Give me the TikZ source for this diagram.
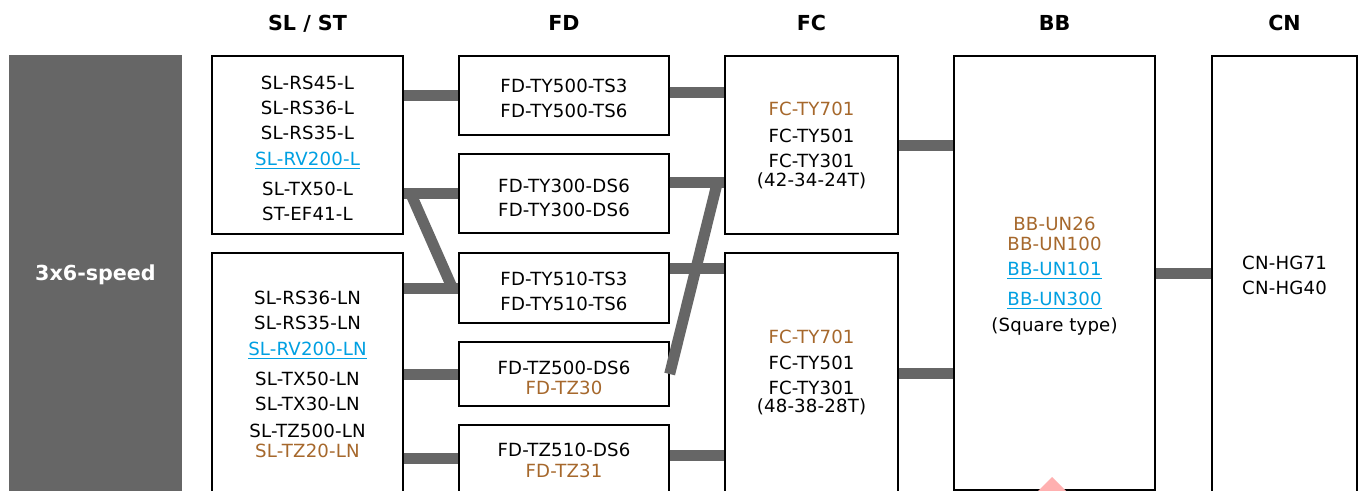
\documentclass[tikz,border=0pt]{standalone}
\usepackage{fontspec}
\setmainfont{DejaVu Sans}
\newfontfamily\partfont[LetterSpace=1]{DejaVu Sans}
\usetikzlibrary{fit,calc}
\definecolor{chartGray}{RGB}{102,102,102}
\definecolor{partBrown}{RGB}{166,104,44}
\definecolor{partBlue}{RGB}{0,160,226}
\definecolor{markPink}{RGB}{255,176,176}
\newcommand{\brn}[1]{\textcolor{partBrown}{#1}}
\newcommand{\ulnk}[1]{\textcolor{partBlue}{\setbox0\hbox{#1}\rlap{\rule[-3.3pt]{\wd0}{1.1pt}}\box0}}

\begin{document}
\begin{tikzpicture}[x=0.75pt, y=-0.75pt,
  % ── part boxes ──
  partbox/.style={draw=black, line width=1pt, inner sep=0pt, fill=white},
  % ── texts ──
  txt/.style={anchor=base, inner sep=0pt, font=\partfont\fontsize{13.6}{16}\selectfont},
  head/.style={anchor=base, inner sep=0pt, font=\fontsize{15.5}{19}\selectfont\bfseries},
  % ── connectors ──
  link/.style={line width=8.25pt, chartGray},
]
\useasboundingbox (0,0) rectangle (1359,490);
\clip (0,0) rectangle (1359,490);

%% ─── 1. speed bar on the left ─────────────────────────────────
\node[fill=chartGray, inner sep=0pt, fit={(9,55) (182,500)}] (speed) {};
\node[head, white] (speedt) at (speed.center |- 0,280) {3x6-speed};

%% ─── 2. part boxes ─────────────────────────────────────────────
% x: SL 212-403 | FD 459-669 | FC 725-898 | BB 954-1155 | CN 1212-1357
\node[partbox, fit={(212,56) (403,234)}]  (sl1) {};
\node[partbox, fit={(212,253) (403,493)}] (sl2) {};
\node[partbox, fit={(459,56) (669,135)}]  (fd1) {};
\node[partbox, fit={(459,154) (669,233)}] (fd2) {};
\node[partbox, fit={(459,253) (669,323)}] (fd3) {};
\node[partbox, fit={(459,342) (669,406)}] (fd4) {};
\node[partbox, fit={(459,425) (669,492)}] (fd5) {};
\node[partbox, fit={(725,56) (898,234)}]  (fc1) {};
\node[partbox, fit={(725,253) (898,493)}] (fc2) {};
\node[partbox, fit={(954,56) (1155,490)}] (bb) {};
\node[partbox, fit={(1212,56) (1357,494)}] (cn) {};

%% ─── 3. column titles ──────────────────────────────────────────
\node[head] (hsl) at (sl1.north |- 0,30) {SL / ST};
\node[head] (hfd) at (fd1.north |- 0,30) {FD};
\node[head] (hfc) at (fc1.north |- 0,30) {FC};
\node[head] (hbb) at (bb.north |- 0,30)  {BB};
\node[head] (hcn) at (cn.north |- 0,30)  {CN};

%% ─── 4. connectors ─────────────────────────────────────────────
% SL -> FD
\draw[link] (fd1.west -| sl1.east) -- (fd1.west);
\draw[link] (fd2.west -| sl1.east) -- (fd2.west);
\draw[link] (fd3.west -| sl2.east) -- (fd3.west);
\draw[link] ($(fd2.west -| sl1.east)+(7,0)$) -- ($(fd3.west)+(-6,0)$);
\draw[link] (fd4.west -| sl2.east) -- (fd4.west);
\draw[link] (fd5.west -| sl2.east) -- (fd5.west);
% FD -> FC
\draw[link] ($(fd1.east)+(0,-3)$) -- ($(fd1.east -| fc1.west)+(0,-3)$);
\draw[link] ($(fd2.east)+(0,-11)$) -- ($(fd2.east -| fc1.west)+(0,-11)$);
\draw[link] ($(fd2.east -| fc1.west)+(-7,-11)$) -- (fd4.east);
\draw[link] ($(fd3.east)+(0,-20)$) -- ($(fd3.east -| fc2.west)+(0,-20)$);
\draw[link] ($(fd5.east)+(0,-3)$) -- ($(fd5.east -| fc2.west)+(0,-3)$);
% FC -> BB -> CN
\draw[link] (fc1.east) -- (fc1.east -| bb.west);
\draw[link] (fc2.east) -- (fc2.east -| bb.west);
\draw[link] (bb.east) -- (bb.east -| cn.west);

%% ─── 5. part names (baselines) ─────────────────────────────────
\foreach \y/\t [count=\i] in {89/SL-RS45-L, 114/SL-RS36-L, 139/SL-RS35-L,
    165/\ulnk{SL-RV200-L}, 195/SL-TX50-L, 220/ST-EF41-L}
  \node[txt] (sl1-\i) at (sl1.center |- 0,\y) {\t};
\foreach \y/\t [count=\i] in {304/SL-RS36-LN, 329/SL-RS35-LN,
    355/\ulnk{SL-RV200-LN}, 385/SL-TX50-LN, 410/SL-TX30-LN,
    437/SL-TZ500-LN, 457/\brn{SL-TZ20-LN}}
  \node[txt] (sl2-\i) at (sl2.center |- 0,\y) {\t};

\foreach \y/\t [count=\i] in {92/FD-TY500-TS3, 117/FD-TY500-TS6}
  \node[txt] (fd1-\i) at (fd1.center |- 0,\y) {\t};
\foreach \y/\t [count=\i] in {192/FD-TY300-DS6, 216/FD-TY300-DS6}
  \node[txt] (fd2-\i) at (fd2.center |- 0,\y) {\t};
\foreach \y/\t [count=\i] in {285/FD-TY510-TS3, 310/FD-TY510-TS6}
  \node[txt] (fd3-\i) at (fd3.center |- 0,\y) {\t};
\foreach \y/\t [count=\i] in {374/FD-TZ500-DS6, 394/\brn{FD-TZ30}}
  \node[txt] (fd4-\i) at (fd4.center |- 0,\y) {\t};
\foreach \y/\t [count=\i] in {456/FD-TZ510-DS6, 477/\brn{FD-TZ31}}
  \node[txt] (fd5-\i) at (fd5.center |- 0,\y) {\t};

\foreach \y/\t [count=\i] in {115/\brn{FC-TY701}, 142/FC-TY501,
    167/FC-TY301, 186/(42-34-24T)}
  \node[txt] (fc1-\i) at (fc1.center |- 0,\y) {\t};
\foreach \y/\t [count=\i] in {343/\brn{FC-TY701}, 369/FC-TY501,
    394/FC-TY301, 412/(48-38-28T)}
  \node[txt] (fc2-\i) at (fc2.center |- 0,\y) {\t};

\foreach \y/\t [count=\i] in {230/\brn{BB-UN26}, 250/\brn{BB-UN100},
    275/\ulnk{BB-UN101}, 305/\ulnk{BB-UN300}, 331/(Square type)}
  \node[txt] (bb-\i) at (bb.center |- 0,\y) {\t};
\foreach \y/\t [count=\i] in {269/CN-HG71, 294/CN-HG40}
  \node[txt] (cn-\i) at (cn.center |- 0,\y) {\t};

%% ─── 6. mark at the lower edge ─────────────────────────────────
\fill[markPink] (1036,493) -- (1052,477) -- (1068,493) -- cycle;

\end{tikzpicture}
\end{document}
